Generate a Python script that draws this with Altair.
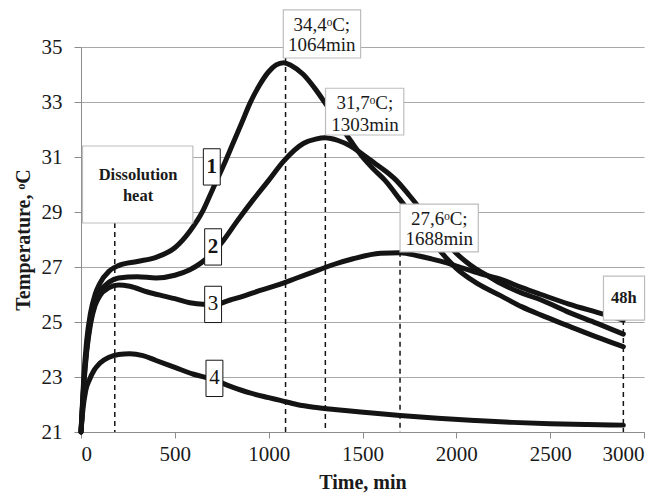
import altair as alt
import pandas as pd

# ---- data ----
c1_time = [0, 15, 30, 50, 75, 100, 150, 200, 300, 400, 500, 580, 650, 700, 760, 810, 860, 900, 950, 1000,
           1040, 1080, 1120, 1185, 1240, 1302, 1370, 1436, 1500, 1560, 1620, 1700, 1800, 1900, 1950, 2000,
           2100, 2238, 2350, 2452, 2600, 2750, 2890]
c1_temp = [21.0, 23.0, 24.3, 25.3, 26.0, 26.4, 26.85, 27.05, 27.2, 27.35, 27.7, 28.3, 29.05, 29.8, 30.7,
           31.5, 32.3, 32.95, 33.6, 34.1, 34.35, 34.43, 34.33, 34.0, 33.55, 32.95, 32.25, 31.6, 31.0, 30.55,
           30.15, 29.45, 28.55, 27.7, 27.3, 26.95, 26.45, 25.95, 25.55, 25.25, 24.85, 24.45, 24.1]

c2_time = [0, 15, 30, 50, 75, 100, 150, 200, 300, 400, 500, 580, 640, 700, 757, 830, 918, 1000, 1080, 1187,
           1250, 1302, 1370, 1436, 1500, 1560, 1620, 1680, 1750, 1850, 1950, 2000, 2050, 2100, 2150, 2238,
           2350, 2452, 2600, 2750, 2890]
c2_temp = [21.0, 22.8, 24.0, 25.0, 25.7, 26.1, 26.45, 26.6, 26.65, 26.6, 26.7, 26.9, 27.15, 27.5, 27.95,
           28.65, 29.45, 30.15, 30.85, 31.5, 31.65, 31.7, 31.6, 31.4, 31.1, 30.8, 30.5, 30.15, 29.6, 28.75,
           27.9, 27.5, 27.2, 26.95, 26.75, 26.4, 26.05, 25.8, 25.35, 24.95, 24.56]

c3_time = [0, 15, 30, 50, 75, 100, 150, 200, 260, 350, 437, 500, 580, 650, 720, 795, 870, 955, 1050, 1150,
           1250, 1350, 1450, 1596, 1700, 1800, 1865, 1950, 2025, 2130, 2238, 2350, 2452, 2600, 2750, 2890]
c3_temp = [21.0, 22.7, 23.9, 24.9, 25.6, 25.95, 26.25, 26.35, 26.3, 26.1, 25.95, 25.85, 25.7, 25.65, 25.65,
           25.8, 25.95, 26.15, 26.35, 26.6, 26.85, 27.1, 27.3, 27.5, 27.52, 27.4, 27.3, 27.15, 26.98, 26.75,
           26.55, 26.25, 26.0, 25.65, 25.35, 25.07]

c4_time = [0, 10, 25, 45, 70, 100, 150, 200, 260, 330, 400, 500, 600, 700, 800, 900, 1000, 1062, 1150, 1240,
           1350, 1490, 1700, 1900, 2100, 2300, 2500, 2700, 2890]
c4_temp = [21.0, 21.8, 22.5, 22.9, 23.25, 23.5, 23.72, 23.82, 23.85, 23.78, 23.6, 23.35, 23.1, 22.92, 22.65,
           22.42, 22.25, 22.15, 22.0, 21.9, 21.82, 21.73, 21.6, 21.5, 21.42, 21.35, 21.3, 21.27, 21.25]

x_ticks = [0, 500, 1000, 1500, 2000, 2500, 3000]
y_ticks = [21, 23, 25, 27, 29, 31, 33, 35]

# dashed markers (time, top of dash)
mark_time = [180, 1090, 1302, 1700, 2890]
mark_top = [28.6, 34.6, 31.8, 27.55, 25.07]

# annotation boxes
note_t1 = [8, 1078, 1303, 1700, 2784]
note_t2 = [596, 1490, 1720, 2117, 3003]
note_T1 = [28.6, 34.6, 31.8, 27.55, 25.07]
note_T2 = [31.4, 36.35, 33.5, 29.29, 26.67]

note_text = ["Dissolution", "heat", "34,4ᵒC;", "1064min", "31,7ᵒC;", "1303min", "27,6ᵒC;", "1688min", "48h"]
note_tx = [304, 304, 1283, 1283, 1513, 1513, 1909, 1909, 2893]
note_ty = [30.35, 29.6, 35.8, 35.07, 32.96, 32.16, 28.75, 28.02, 25.87]
note_bold = [True, True, False, False, False, False, False, False, True]

# curve number labels
num_text = ["1", "2", "3", "4"]
num_t = [697, 704, 704, 711]
num_T = [30.64, 27.73, 25.64, 22.95]
num_bold = [True, True, False, False]

FONT = "Liberation Serif"

rows = []
for name, ts, Ts in [("1", c1_time, c1_temp), ("2", c2_time, c2_temp),
                     ("3", c3_time, c3_temp), ("4", c4_time, c4_temp)]:
    for t, T in zip(ts, Ts):
        rows.append({"series": name, "t": t, "T": T})
curves = pd.DataFrame(rows)

marks = pd.DataFrame({"t": mark_time, "T": mark_top, "T0": [21] * len(mark_time)})
boxes = pd.DataFrame({"t": note_t1, "t2": note_t2, "T": note_T1, "T2": note_T2})
texts = pd.DataFrame({"t": note_tx, "T": note_ty, "label": note_text, "bold": note_bold})
nums = pd.DataFrame({"tc": num_t, "Tc": num_T, "label": num_text, "bold": num_bold})
nums["t"] = nums["tc"] - 45
nums["t2"] = nums["tc"] + 45
nums["T"] = nums["Tc"] - 0.66
nums["T2"] = nums["Tc"] + 0.66
num_labels = pd.DataFrame({"t": num_t, "T": num_T, "label": num_text, "bold": num_bold})

xscale = alt.Scale(domain=[0, 3000], nice=False)
yscale = alt.Scale(domain=[21, 35], nice=False, zero=False)

X = alt.X("t:Q", scale=xscale, title="Time, min",
          axis=alt.Axis(values=x_ticks, format="d", grid=False, tickSize=6, labelPadding=5,
                        titlePadding=8, domainColor="#8c8c8c", tickColor="#8c8c8c"))
Y = alt.Y("T:Q", scale=yscale, title="Temperature, ᵒC",
          axis=alt.Axis(values=y_ticks, format="d", grid=True, tickSize=7, labelPadding=12,
                        titlePadding=8, gridColor="#a8a8a8", gridWidth=1.2,
                        domainColor="#8c8c8c", tickColor="#8c8c8c"))

lines = alt.Chart(curves).mark_line(strokeWidth=5, color="#141414", interpolate="monotone",
                                    strokeCap="round").encode(x=X, y=Y, detail="series:N")

dashes = alt.Chart(marks).mark_rule(strokeDash=[5, 4], strokeWidth=1.5, color="#141414").encode(
    x=X, y=Y, y2="T0:Q")

note_boxes = alt.Chart(boxes).mark_rect(fill="white", stroke="#bdbdbd", strokeWidth=1.2).encode(
    x=X, x2="t2:Q", y=Y, y2="T2:Q")

note_reg = alt.Chart(texts).transform_filter("!datum.bold").mark_text(
    font=FONT, fontSize=19, color="#1a1a1a").encode(x=X, y=Y, text="label:N")
note_b = alt.Chart(texts).transform_filter("datum.bold").mark_text(
    font=FONT, fontSize=16.5, fontWeight="bold", color="#1a1a1a").encode(x=X, y=Y, text="label:N")

num_boxes = alt.Chart(nums).mark_rect(fill="white", stroke="#141414", strokeWidth=1).encode(
    x=X, x2="t2:Q", y=Y, y2="T2:Q")
num_b = alt.Chart(num_labels).transform_filter("datum.bold").mark_text(
    font=FONT, fontSize=21, fontWeight="bold", color="#141414").encode(x=X, y=Y, text="label:N")
num_r = alt.Chart(num_labels).transform_filter("!datum.bold").mark_text(
    font=FONT, fontSize=21, color="#141414").encode(x=X, y=Y, text="label:N")

chart = alt.layer(lines, dashes, note_boxes, note_reg, note_b, num_boxes, num_b, num_r).properties(
    width=563, height=385,
    autosize=alt.AutoSizeParams(type="none"),
    padding={"left": 73, "top": 39, "right": 15, "bottom": 70},
).configure_view(stroke=None).configure_axis(
    labelFont=FONT, labelFontSize=21, labelColor="#1a1a1a",
    titleFont=FONT, titleFontSize=20, titleFontWeight="bold", titleColor="#1a1a1a",
)

chart.save("out.html", embed_options={"renderer": "svg", "actions": False})
